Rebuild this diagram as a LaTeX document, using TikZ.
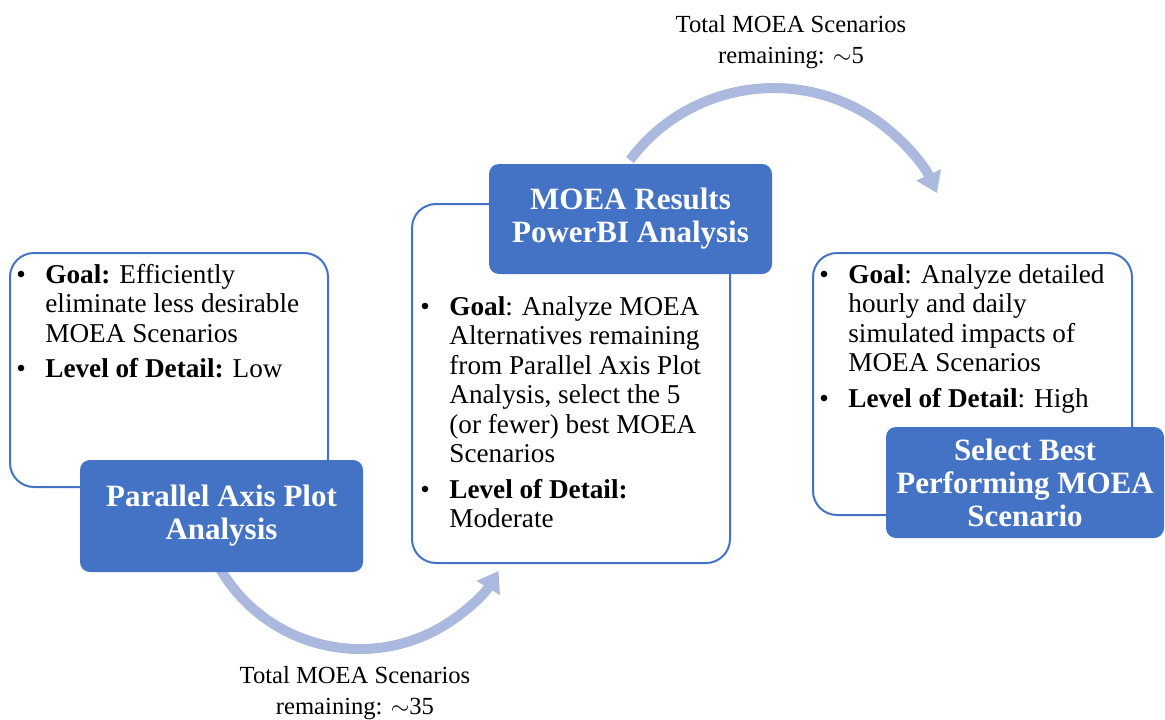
\documentclass[tikz,border=0pt]{standalone}
\usepackage{fontspec}
\setmainfont{Liberation Serif}
\usetikzlibrary{arrows.meta}
\definecolor{boxblue}{RGB}{68,114,196}
\definecolor{arcblue}{RGB}{171,185,222}
\begin{document}
\begin{tikzpicture}[x=0.5pt,y=0.5pt,
  outbox/.style={rectangle,draw=boxblue,line width=1pt,fill=white,rounded corners=12pt,inner sep=0pt},
  titlebox/.style={rectangle,fill=boxblue,draw=none,rounded corners=5pt,text=white,
    font=\fontsize{15.5}{16.5}\selectfont\bfseries,align=center,inner sep=0pt},
  bodytext/.style={anchor=base west,inner sep=0pt,font=\fontsize{13.6}{14.75}\selectfont,text=black},
  flowarc/.style={draw=arcblue,line width=5pt,-{Triangle[width=13pt,length=10pt]}},
  lbl/.style={anchor=north,align=center,font=\fontsize{12.3}{15.5}\selectfont,inner sep=0pt,text=black}]
\useasboundingbox (0,0) rectangle (1165,719);

% connectors (arcs)
\coordinate (s1) at (220.7,149.3);
\coordinate (s2) at (630,559);
\draw[flowarc] (s1) arc[start angle=210.7,end angle=328.8,radius=81pt] coordinate (e1);
\draw[flowarc] (s2) arc[start angle=143.2,end angle=24.5,radius=89.7pt] coordinate (e2);

% outline boxes
\node[outbox,minimum width=159pt,minimum height=117pt] (leftout) at (169,349) {};
\node[outbox,minimum width=159pt,minimum height=179.5pt] (midout) at (571,335.5) {};
\node[outbox,minimum width=159.5pt,minimum height=131pt] (rightout) at (972.5,335) {};

% filled title boxes
\node[titlebox,minimum width=141.5pt,minimum height=56pt] (leftfill) at (221.5,203) {Parallel Axis Plot\\Analysis};
\node[titlebox,minimum width=141.5pt,minimum height=55pt] (midfill) at (630.5,500) {MOEA Results\\PowerBI Analysis};
\node[titlebox,minimum width=139pt,minimum height=55.5pt] (rightfill) at (1025,236.5) {Select Best\\Performing MOEA\\Scenario};

% body texts
\node[bodytext] (lefttext) at (16,436) {\begin{tabular}[t]{@{}p{14.5pt}@{}l@{}}
\textbullet & \textbf{Goal:} Efficiently\\
 & eliminate less desirable\\
 & MOEA Scenarios\\[3pt]
\textbullet & \textbf{Level of Detail:} Low
\end{tabular}};

\node[bodytext] (midtext) at (420,404) {\begin{tabular}[t]{@{}p{14.5pt}@{}l@{}}
\textbullet & \textbf{Goal}: Analyze MOEA\\
 & Alternatives remaining\\
 & from Parallel Axis Plot\\
 & Analysis, select the 5\\
 & (or fewer) best MOEA\\
 & Scenarios\\[3pt]
\textbullet & \textbf{Level of Detail:}\\
 & Moderate
\end{tabular}};

\node[bodytext] (righttext) at (819,436) {\begin{tabular}[t]{@{}p{14.5pt}@{}l@{}}
\textbullet & \textbf{Goal}: Analyze detailed\\
 & hourly and daily\\
 & simulated impacts of\\
 & MOEA Scenarios\\[3pt]
\textbullet & \textbf{Level of Detail}: High
\end{tabular}};

% labels
\node[lbl] (toplabel) at (791,704) {Total MOEA Scenarios\\remaining: $\sim$5};
\node[lbl] (botlabel) at (355,53) {Total MOEA Scenarios\\remaining: $\sim$35};
\end{tikzpicture}
\end{document}
